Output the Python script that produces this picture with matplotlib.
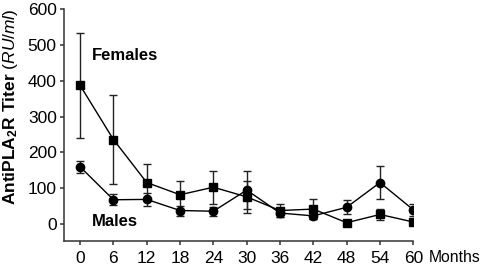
import matplotlib
matplotlib.use("Agg")
import matplotlib.pyplot as plt

plt.rcParams['font.family'] = ['Liberation Sans', 'DejaVu Sans']
plt.rcParams['mathtext.fontset'] = 'custom'
plt.rcParams['mathtext.rm'] = 'Liberation Sans'
plt.rcParams['mathtext.bf'] = 'Liberation Sans:bold'
plt.rcParams['mathtext.it'] = 'Liberation Sans:italic'

months = [0, 6, 12, 18, 24, 30, 36, 42, 48, 54, 60]
females = [387, 236, 116, 82, 103, 76, 38, 42, 4, 27, 6]
females_err = [146, 123, 51, 39, 46, 45, 18, 29, 3, 16, 3]
males = [160, 68, 69, 38, 36, 95, 31, 23, 47, 116, 40]
males_err = [17, 15, 17, 14, 12, 52, 10, 10, 19, 47, 16]
yticks = [0, 100, 200, 300, 400, 500, 600]

fig = plt.figure(figsize=(4.84, 2.66), dpi=100)
ax = fig.add_axes([64/484, 1-241/266, (413.3-64)/484, (241-9)/266])

common = dict(color='black', lw=1.0, ecolor='#222222', elinewidth=1.0,
              capsize=2.6, capthick=1.0, markersize=6)
ax.errorbar(months, females, yerr=females_err, marker='s', **common)
ax.errorbar(months, males, yerr=males_err, marker='o', **common)

ax.set_xlim(-2.9, 60)
ax.set_ylim(-47, 600)
ax.set_xticks(months)
ax.set_yticks(yticks)
ax.spines['top'].set_visible(False)
ax.spines['right'].set_visible(False)
ax.spines['left'].set_bounds(-47, 600)
ax.spines['bottom'].set_bounds(-2.9, 60)
for s in ['left', 'bottom']:
    ax.spines[s].set_linewidth(1.1)
    ax.spines[s].set_color('#333333')
ax.tick_params(axis='both', labelsize=12.5, length=3.2, width=1.1, color='#333333', pad=2)
ax.tick_params(axis='x', pad=4)

ax.text(2.1, 471, 'Females', fontsize=12, fontweight='bold', ha='left', va='center')
ax.text(2.1, 7, 'Males', fontsize=12, fontweight='bold', ha='left', va='center')

fig.text(429/484, 1-258/266, 'Months', fontsize=11.3, ha='left', va='center')
fig.text(11/484, 1-107/266, r'$\mathbf{AntiPLA_2R\ Titer}\ \mathit{(RU/ml)}$',
         fontsize=12.5, rotation=90, ha='center', va='center')

fig.savefig('out.png', dpi=100)
